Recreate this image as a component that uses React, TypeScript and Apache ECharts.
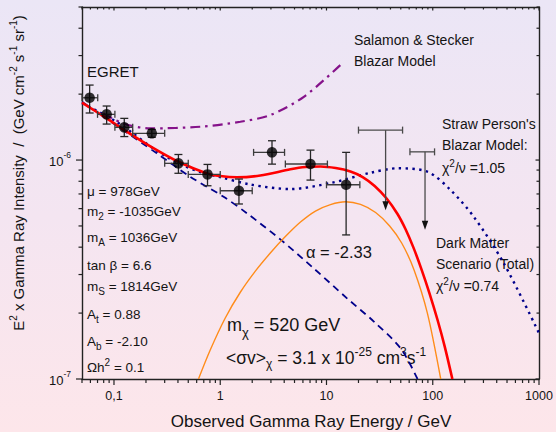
import React, { useEffect, useRef } from 'react';
import * as echarts from 'echarts';

const FONT = '"Liberation Sans", Arial, Helvetica, sans-serif';
const TXT = '#141414';

const X_MIN = 0.05;
const X_MAX = 1000;
const Y_MIN = 1e-7;
const Y_MAX = 5e-6;

// EGRET measurements: energy (GeV), E^2 x intensity
const egretX = [0.059, 0.0853, 0.125, 0.227, 0.404, 0.759, 1.5, 3.07, 7.07, 15.3];
const egretY = [1.925e-6, 1.617e-6, 1.41e-6, 1.324e-6, 0.966e-6, 0.86e-6, 0.724e-6, 1.084e-6, 0.959e-6, 0.771e-6];
const egretXLow = [0.05, 0.07, 0.102, 0.15, 0.3, 0.5, 1.0, 2.06, 4.1, 10];
const egretXHigh = [0.0703, 0.102, 0.15, 0.3, 0.5, 1.0, 2.0, 4.03, 10.2, 20.6];
const egretYLow = [1.64e-6, 1.46e-6, 1.28e-6, 1.27e-6, 0.87e-6, 0.763e-6, 0.63e-6, 0.958e-6, 0.81e-6, 0.455e-6];
const egretYHigh = [2.2e-6, 1.765e-6, 1.55e-6, 1.38e-6, 1.06e-6, 0.955e-6, 0.819e-6, 1.225e-6, 1.11e-6, 1.084e-6];

// EGRET upper limits
const ulX = [36, 84.6];
const ulTop = [1.37e-6, 1.09e-6];
const ulTip = [0.59e-6, 0.48e-6];
const ulXLow = [20, 61];
const ulXHigh = [52, 104];

// Dark matter scenario (total)
const totalCurve = [
  [0.05, 1.83e-6], [0.0853, 1.55e-6], [0.125, 1.371e-6], [0.218, 1.158e-6], [0.404, 0.982e-6],
  [0.75, 0.869e-6], [1.0, 0.845e-6], [1.437, 0.834e-6], [2.38, 0.85e-6], [4.57, 0.907e-6],
  [6.34, 0.929e-6], [8.77, 0.934e-6], [12.2, 0.919e-6], [16.8, 0.886e-6], [21.9, 0.836e-6],
  [28.4, 0.761e-6], [36.8, 0.667e-6], [46.6, 0.567e-6], [55.5, 0.483e-6], [66, 0.397e-6],
  [78.5, 0.316e-6], [93.5, 0.245e-6], [111, 0.186e-6], [129.5, 0.141e-6], [153, 1e-7],
];
// Dark matter annihilation signal
const signalCurve = [
  [0.624, 1e-7], [0.805, 0.1357e-6], [1.115, 0.19e-6], [1.545, 0.249e-6], [2.14, 0.311e-6],
  [2.96, 0.376e-6], [4.1, 0.447e-6], [5.69, 0.521e-6], [7.87, 0.585e-6], [10.9, 0.626e-6],
  [15.1, 0.645e-6], [20.9, 0.627e-6], [29, 0.576e-6], [39.3, 0.5e-6], [51, 0.418e-6],
  [66.7, 0.315e-6], [89, 0.2e-6], [118.9, 1e-7],
];
// Background power law (alpha = -2.33)
const backgroundCurve = [
  [0.05, 1.846e-6], [0.253, 1.073e-6], [0.521, 0.839e-6], [1.075, 0.68e-6], [1.786, 0.571e-6],
  [3.68, 0.434e-6], [7.59, 0.32e-6], [15.7, 0.233e-6], [27.9, 0.183e-6], [49.9, 0.138e-6],
  [71.9, 1e-7],
];
// Straw Person's blazar model
const strawCurve = [
  [0.05, 1.82e-6], [0.0739, 1.648e-6], [0.1063, 1.491e-6], [0.152, 1.321e-6], [0.218, 1.158e-6],
  [0.314, 1.032e-6], [0.451, 0.944e-6], [0.647, 0.882e-6], [1.0, 0.836e-6], [1.92, 0.773e-6],
  [4.57, 0.737e-6], [10.9, 0.785e-6], [26, 0.875e-6], [47, 0.917e-6], [89.6, 0.884e-6],
  [147, 0.73e-6], [243, 0.551e-6], [466, 0.338e-6], [1000, 0.162e-6],
];
// Salamon & Stecker blazar model
const salamonCurve = [
  [0.0792, 1.634e-6], [0.122, 1.47e-6], [0.218, 1.395e-6], [0.647, 1.419e-6], [1.545, 1.496e-6],
  [2.96, 1.605e-6], [6.12, 1.945e-6], [13.5, 2.715e-6],
];

const xTickLabelValues = [0.1, 1, 10, 100, 1000];
const xTickLabels = ['0,1', '1', '10', '100', '1000'];
const yTickLabelValues = [1e-7, 1e-6];
const yTickExponents = ['-7', '-6'];

function logTicks(min: number, max: number) {
  const out: { v: number; major: boolean }[] = [];
  for (let e = Math.floor(Math.log10(min)); e <= Math.ceil(Math.log10(max)); e++) {
    for (let m = 1; m <= 9; m++) {
      const v = m * Math.pow(10, e);
      if (v >= min * 0.999 && v <= max * 1.001) out.push({ v, major: m === 1 });
    }
  }
  return out;
}

function rich(fs: number, sfs: number, off: number) {
  const base = { fontFamily: FONT, fill: TXT, color: TXT };
  return {
    n: { ...base, fontSize: fs, lineHeight: sfs + 2 * off, verticalAlign: 'middle' },
    sub: { ...base, fontSize: sfs, lineHeight: sfs, verticalAlign: 'bottom' },
    sup: { ...base, fontSize: sfs, lineHeight: sfs, verticalAlign: 'top' },
  };
}

function richText(x: number, y: number, text: string, fs: number, sfs: number, off: number, extra: any = {}) {
  return {
    type: 'text',
    x,
    y,
    ...extra,
    style: {
      text,
      rich: rich(fs, sfs, off),
      align: extra.align || 'left',
      verticalAlign: 'middle',
      fontFamily: FONT,
      fontSize: fs,
      fill: TXT,
    },
  };
}

function plainText(x: number, y: number, text: string, fs: number, align = 'left') {
  return {
    type: 'text',
    x,
    y,
    style: { text, fontFamily: FONT, fontSize: fs, fill: TXT, align, verticalAlign: 'middle' },
  };
}

function buildOption() {
  const axisLine = { show: true, onZero: false, lineStyle: { color: '#222', width: 1.4 } };
  const hidden = {
    axisTick: { show: false },
    axisLabel: { show: false },
    splitLine: { show: false },
    minorTick: { show: false },
    minorSplitLine: { show: false },
    axisLine,
  };

  // tick data: kind = side*2 + (major?0:1); side 0 bottom, 1 left, 2 top, 3 right
  const tickData: number[][] = [];
  logTicks(X_MIN, X_MAX).forEach((t) => {
    tickData.push([t.v, Y_MIN, t.major ? 0 : 1]);
    tickData.push([t.v, Y_MAX, t.major ? 4 : 5]);
  });
  logTicks(Y_MIN, Y_MAX).forEach((t) => {
    tickData.push([X_MIN, t.v, t.major ? 2 : 3]);
    tickData.push([X_MAX, t.v, t.major ? 6 : 7]);
  });

  const lineSeries = (data: number[][], color: string, width: number, type: any, z = 2) => ({
    type: 'line',
    data,
    showSymbol: false,
    smooth: 0.3,
    z,
    silent: true,
    lineStyle: { color, width, type, cap: 'butt' },
  });

  return {
    animation: false,
    backgroundColor: 'transparent',
    grid: { left: 82, top: 7, width: 457, height: 372, containLabel: false },
    xAxis: [
      { type: 'log', logBase: 10, min: X_MIN, max: X_MAX, position: 'bottom', ...hidden },
      { type: 'log', logBase: 10, min: X_MIN, max: X_MAX, position: 'top', ...hidden },
    ],
    yAxis: [
      { type: 'log', logBase: 10, min: Y_MIN, max: Y_MAX, position: 'left', ...hidden },
      { type: 'log', logBase: 10, min: Y_MIN, max: Y_MAX, position: 'right', ...hidden },
    ],
    series: [
      // axis ticks
      {
        type: 'custom',
        silent: true,
        clip: false,
        z: 5,
        data: tickData,
        renderItem: (params: any, api: any) => {
          const kind = api.value(2);
          const side = Math.floor(kind / 2);
          const major = kind % 2 === 0;
          const p = api.coord([api.value(0), api.value(1)]);
          let shape;
          if (side === 0) {
            const L = major ? 6 : 4;
            shape = { x1: p[0], y1: p[1], x2: p[0], y2: p[1] + L };
          } else if (side === 1) {
            const L = major ? 6 : 3.5;
            shape = { x1: p[0], y1: p[1], x2: p[0] - L, y2: p[1] };
          } else if (side === 2) {
            const L = major ? 3.5 : 2.5;
            shape = { x1: p[0], y1: p[1], x2: p[0], y2: p[1] + L };
          } else {
            const L = major ? 3.5 : 2.5;
            shape = { x1: p[0], y1: p[1], x2: p[0] - L, y2: p[1] };
          }
          return { type: 'line', shape, style: { stroke: '#222', lineWidth: 1.2 } };
        },
      },
      // x tick labels
      {
        type: 'custom',
        silent: true,
        clip: false,
        z: 5,
        data: xTickLabelValues.map((v, i) => [v, Y_MIN, i]),
        renderItem: (params: any, api: any) => {
          const p = api.coord([api.value(0), api.value(1)]);
          return {
            type: 'text',
            x: p[0],
            y: p[1] + 17,
            style: {
              text: xTickLabels[api.value(2)],
              fontFamily: FONT,
              fontSize: 12.5,
              fill: TXT,
              align: 'center',
              verticalAlign: 'middle',
            },
          };
        },
      },
      // y tick labels
      {
        type: 'custom',
        silent: true,
        clip: false,
        z: 5,
        data: yTickLabelValues.map((v, i) => [X_MIN, v, i]),
        renderItem: (params: any, api: any) => {
          const p = api.coord([api.value(0), api.value(1)]);
          return {
            type: 'group',
            children: [
              {
                type: 'text',
                x: p[0] - 18.5,
                y: p[1] + 1,
                style: { text: '10', fontFamily: FONT, fontSize: 13, fill: TXT, align: 'right', verticalAlign: 'middle' },
              },
              {
                type: 'text',
                x: p[0] - 18.5,
                y: p[1] - 5,
                style: {
                  text: yTickExponents[api.value(2)],
                  fontFamily: FONT,
                  fontSize: 8.5,
                  fill: TXT,
                  align: 'left',
                  verticalAlign: 'middle',
                },
              },
            ],
          };
        },
      },
      lineSeries(backgroundCurve, '#00008b', 1.8, [7, 5]),
      lineSeries(strawCurve, '#00008b', 2.4, [2.4, 4.4]),
      lineSeries(salamonCurve, '#85128a', 2.2, [10, 5, 2.5, 5]),
      lineSeries(signalCurve, '#ff8c1a', 1.4, 'solid'),
      lineSeries(totalCurve, '#ff0000', 2.6, 'solid', 3),
      // EGRET error bars
      {
        type: 'custom',
        silent: true,
        z: 4,
        data: egretX.map((x, i) => [x, egretY[i], egretXLow[i], egretXHigh[i], egretYLow[i], egretYHigh[i]]),
        encode: { x: [0, 2, 3], y: [1, 4, 5] },
        renderItem: (params: any, api: any) => {
          const x = api.value(0);
          const y = api.value(1);
          const c = api.coord([x, y]);
          const l = api.coord([api.value(2), y]);
          const r = api.coord([api.value(3), y]);
          const b = api.coord([x, api.value(4)]);
          const t = api.coord([x, api.value(5)]);
          const ln = (x1: number, y1: number, x2: number, y2: number, stroke: string) => ({
            type: 'line',
            shape: { x1, y1, x2, y2 },
            style: { stroke, lineWidth: 1.3 },
          });
          const v = '#262626';
          const h = '#3c3c3c';
          return {
            type: 'group',
            children: [
              ln(c[0], t[1], c[0], b[1], v),
              ln(c[0] - 4, t[1], c[0] + 4, t[1], v),
              ln(c[0] - 4, b[1], c[0] + 4, b[1], v),
              ln(l[0], c[1], r[0], c[1], h),
              ln(l[0], c[1] - 3.5, l[0], c[1] + 3.5, h),
              ln(r[0], c[1] - 3.5, r[0], c[1] + 3.5, h),
            ],
          };
        },
      },
      // EGRET upper limits
      {
        type: 'custom',
        silent: true,
        z: 4,
        data: ulX.map((x, i) => [x, ulTop[i], ulTip[i], ulXLow[i], ulXHigh[i]]),
        encode: { x: [0, 3, 4], y: [1, 2] },
        renderItem: (params: any, api: any) => {
          const x = api.value(0);
          const t = api.coord([x, api.value(1)]);
          const tip = api.coord([x, api.value(2)]);
          const l = api.coord([api.value(3), api.value(1)]);
          const r = api.coord([api.value(4), api.value(1)]);
          const st = { stroke: '#4a4a4a', lineWidth: 1.3 };
          return {
            type: 'group',
            children: [
              { type: 'line', shape: { x1: t[0], y1: t[1], x2: tip[0], y2: tip[1] - 8 }, style: st },
              { type: 'line', shape: { x1: l[0], y1: t[1], x2: r[0], y2: t[1] }, style: st },
              { type: 'line', shape: { x1: l[0], y1: t[1] - 3.5, x2: l[0], y2: t[1] + 3.5 }, style: st },
              { type: 'line', shape: { x1: r[0], y1: t[1] - 3.5, x2: r[0], y2: t[1] + 3.5 }, style: st },
              {
                type: 'polygon',
                shape: { points: [[tip[0] - 3.2, tip[1] - 9], [tip[0] + 3.2, tip[1] - 9], [tip[0], tip[1]]] },
                style: { fill: '#111' },
              },
            ],
          };
        },
      },
      // EGRET points
      {
        type: 'scatter',
        silent: true,
        z: 5,
        symbol: 'circle',
        symbolSize: 10.5,
        itemStyle: { color: '#000' },
        data: egretX.map((x, i) => [x, egretY[i]]),
      },
    ],
    graphic: [
      // axis titles
      richText(
        18,
        173,
        '{n|E}{sup|2}{n| x Gamma Ray Intensity  /  (GeV cm}{sup|-2}{n| s}{sup|-1}{n| sr}{sup|-1}{n|)}',
        15,
        10,
        5,
        { rotation: Math.PI / 2, align: 'center' }
      ),
      plainText(311, 421, 'Observed Gamma Ray Energy / GeV', 17, 'center'),
      // annotations
      plainText(87, 71, 'EGRET', 15),
      plainText(354, 39.5, 'Salamon & Stecker', 14),
      plainText(354, 61, 'Blazar Model', 14),
      plainText(442, 124, "Straw Person's", 14),
      plainText(442, 145, 'Blazar Model:', 14),
      richText(442, 168, '{n|χ}{sup|2}{n|/ν =1.05}', 14, 10, 5),
      plainText(436, 243, 'Dark Matter', 14),
      plainText(436, 263.5, 'Scenario (Total)', 14),
      richText(436, 286, '{n|χ}{sup|2}{n|/ν =0.74}', 14, 10, 5),
      plainText(306, 252, 'α = -2.33', 16.5),
      richText(227, 325, '{n|m}{sub|χ}{n| = 520 GeV}', 18, 13, 7),
      richText(226, 358, '{n|<σv>}{sub|χ}{n| = 3.1 x 10}{sup|-25}{n| cm}{sup|3}{n|s}{sup|-1}', 17.5, 12, 6),
      // SUSY parameters
      plainText(87, 191, 'μ = 978GeV', 13.5),
      richText(87, 211.5, '{n|m}{sub|2}{n| = -1035GeV}', 13.5, 10, 5),
      richText(87, 237, '{n|m}{sub|A}{n| = 1036GeV}', 13.5, 10, 5),
      plainText(87, 265, 'tan β = 6.6', 13.5),
      richText(87, 286, '{n|m}{sub|S}{n| = 1814GeV}', 13.5, 10, 5),
      richText(87, 314, '{n|A}{sub|t}{n| = 0.88}', 13.5, 10, 5),
      richText(87, 341.5, '{n|A}{sub|b}{n| = -2.10}', 13.5, 10, 5),
      richText(87, 367.5, '{n|Ωh}{sup|2}{n| = 0.1}', 13.5, 10, 5),
    ],
  };
}

export default function App() {
  const ref = useRef<HTMLDivElement>(null);
  useEffect(() => {
    const el = ref.current;
    if (!el) return;
    const chart = echarts.init(el, undefined, { renderer: 'svg', width: 556, height: 432 });
    chart.setOption(buildOption() as any);
    return () => chart.dispose();
  }, []);
  return (
    <div
      ref={ref}
      style={{
        position: 'fixed',
        left: 0,
        top: 0,
        width: 556,
        height: 432,
        background: 'linear-gradient(to bottom, #ebe6f6 0%, #f4e5f1 50%, #fde6ea 100%)',
      }}
    />
  );
}
